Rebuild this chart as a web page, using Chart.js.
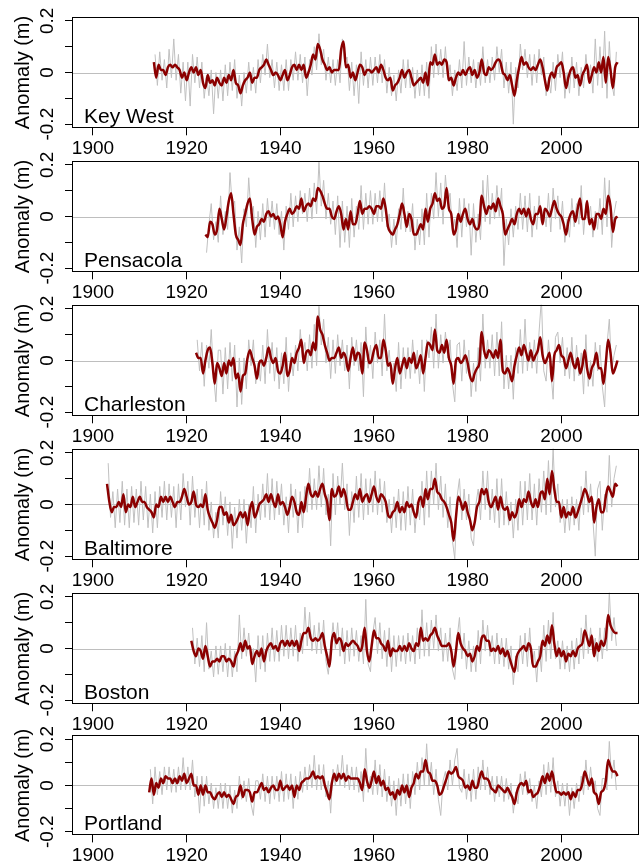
<!DOCTYPE html>
<html>
<head>
<meta charset="utf-8">
<script src="https://cdn.jsdelivr.net/npm/chart.js@4/dist/chart.umd.min.js"></script>
<style>
  html, body { margin: 0; padding: 0; background: #ffffff; }
  #wrap { position: relative; width: 641px; height: 865px; overflow: hidden; background: #ffffff; }
  #wrap canvas { position: absolute; left: 0; }
</style>
</head>
<body>
<div id="wrap"></div>
<script>
// Sea-level anomalies at six US tide gauges, in centimetres.
// "Smooth" series are half-yearly samples of the low-passed record,
// "Raw" series are half-yearly samples of the monthly record.
const STEP = 0.5;

const keyWestStart = 1913.0;
const keyWestSmooth = [
  4,-2,3,1,1,-1,2,3,2,3,2,1,-2,0,-3,0,2,0,2,-1,
  1,-4,-6,-1,-4,-3,-5,-2,-4,-5,-2,-4,-1,-3,1,-4,-5,-8,-5,-3,
  -2,0,-4,-2,-2,1,2,3,5,3,1,-1,0,-1,-3,-1,1,-3,-1,2,
  3,1,3,1,3,-2,0,3,7,5,11,9,5,3,1,2,0,1,1,1,
  9,12,2,3,-2,0,-3,0,3,2,-1,1,1,0,1,2,0,3,1,-2,
  -3,-2,-7,-5,-4,-2,1,-2,0,1,-2,-5,-4,-3,-2,-4,0,-5,4,3,
  7,3,4,3,5,4,-3,-2,-5,-2,0,-1,1,-1,1,2,-1,1,-2,0,
  5,0,-1,2,1,2,4,5,4,0,-1,-3,-1,-5,-9,-3,2,6,3,4,
  2,1,2,1,3,5,2,-3,-7,-2,0,-2,2,3,4,0,-6,-2,1,2,
  -2,-1,-5,-1,1,3,-4,-1,2,0,4,0,6,-4,6,1,-6,2,4
];
const keyWestRawStart = 1913.25;
const keyWestRaw = [
  7,-5,8,-3,5,-6,9,-2,13,-3,7,-8,4,-11,4,-13,7,-4,6,-6,
  4,-10,-1,-9,1,-16,0,-10,1,-11,3,-9,4,-7,5,-10,-1,-13,0,-8,
  4,-7,2,-8,5,-4,7,-1,11,-2,5,-6,4,-7,3,-7,5,-7,5,-3,
  8,-3,7,-4,6,-9,5,-1,10,1,15,3,9,-3,6,-4,5,-5,5,-4,
  13,4,6,-7,4,-9,3,-12,8,-5,5,-6,6,-5,6,-4,7,-4,5,-8,
  2,-9,-1,-11,1,-8,5,-6,5,-6,2,-10,1,-9,3,-9,4,-10,10,-2,
  11,-1,9,-2,10,-3,3,-9,1,-7,5,-6,12,-5,6,-4,5,-6,4,-5,
  10,-4,5,-4,6,-3,10,0,9,-6,4,-8,4,-20,2,-6,11,1,9,-2,
  7,-5,7,-4,9,-1,6,-9,-2,-8,4,-7,7,-2,8,-10,0,-8,6,-6,
  4,-9,2,-6,7,-3,3,-8,13,-5,10,-6,16,-10,12,-4,-9,8
];

const pensacolaStart = 1924.0;
const pensacolaSmooth = [
  -7,-8,-2,-3,-7,-5,3,-1,-5,0,6,9,1,-7,-9,-11,-3,1,5,7,
  -1,-7,-4,-3,-1,-2,1,2,0,1,-1,0,-3,-8,-2,1,3,1,2,4,
  3,7,2,4,5,4,7,6,11,10,8,5,3,3,0,-1,2,4,1,-5,
  -1,-5,2,-3,-3,1,6,1,3,3,4,3,1,4,4,3,7,3,-4,-6,
  -7,-5,-3,1,5,1,-4,1,-1,-7,-7,-5,-3,-5,3,-2,3,5,9,6,
  7,3,4,11,3,1,-7,-5,1,-2,1,3,-1,-3,-1,-4,-5,-3,8,4,
  1,4,3,5,2,7,4,1,-7,-5,-3,-1,-3,1,3,1,3,0,3,-1,
  -3,1,1,4,-3,3,2,0,3,6,3,1,0,-3,-7,-2,1,2,-2,3,
  7,-1,-1,6,-3,-1,-5,1,1,-1,3,1,8,4,-6,-1,0
];
const pensacolaRawStart = 1924.25;
const pensacolaRaw = [
  -14,-3,5,-9,-2,-10,8,-7,2,-5,17,4,6,-13,-4,-18,3,-4,15,1,
  4,-12,2,-9,5,-8,7,-4,6,-5,5,-7,2,-13,4,-5,9,-4,8,-2,
  10,1,9,-2,11,-1,13,1,21,4,14,-1,9,-3,6,-7,8,-12,6,-10,
  4,-12,7,-8,4,-5,12,-5,9,-3,10,-3,9,-2,10,-2,13,-4,1,-12,
  -1,-11,3,-5,11,-6,2,-6,5,-13,-1,-11,3,-11,9,-8,9,-1,17,0,
  13,-3,16,5,9,-6,-1,-12,7,-8,7,-4,5,-15,5,-10,1,-9,14,-2,
  16,-3,9,-1,12,0,11,-19,-1,-11,3,-8,4,-5,9,-5,8,-6,9,-8,
  4,-5,8,-2,3,-4,9,-6,11,-1,8,-5,6,-10,-1,-8,7,-4,5,-3,
  12,-7,5,-1,4,-8,2,-5,7,-7,15,-4,14,-12,1,6
];

const charlestonStart = 1922.0;
const charlestonSmooth = [
  3,1,1,-5,0,4,5,-1,-9,-1,-3,-6,-1,-5,0,-2,1,-7,-5,-12,
  -6,-5,1,4,1,-2,-7,-1,0,-2,1,5,1,-1,1,-4,-5,-2,3,-6,
  -4,1,-1,3,5,8,-1,3,4,2,7,4,17,12,10,6,3,0,1,1,
  3,5,1,3,1,-4,1,5,0,3,2,-5,7,4,-1,0,4,6,1,1,
  8,4,-2,-1,-9,-3,1,-5,-2,1,-3,1,-1,3,-3,-1,2,-5,1,7,
  6,4,12,4,3,6,3,8,1,-2,-9,0,1,-1,0,2,-1,-6,-8,-5,
  -3,-1,11,4,1,4,3,1,4,1,8,-4,-5,-3,-5,-8,-2,2,5,2,
  6,3,0,4,0,2,4,9,2,-1,1,3,-8,2,4,6,2,1,-3,0,
  3,-1,-3,1,-5,-2,4,-3,-7,-3,-1,3,-3,-3,-9,-1,8,3,-5,-3,0
];
const charlestonRawStart = 1922.25;
const charlestonRaw = [
  8,-4,7,-10,6,-3,12,-6,-16,4,4,-13,5,-11,7,-8,6,-18,1,-17,
  1,-11,8,-2,8,-9,-1,-8,6,-9,12,-5,7,-8,5,-11,3,-9,9,-12,
  3,-6,6,-4,12,1,7,-4,10,-3,14,-2,21,6,16,-1,9,-7,8,-5,
  10,-2,8,-4,6,-11,9,-2,8,-4,7,-14,13,-3,6,-7,11,-1,8,-6,
  18,-4,4,-8,-1,-12,7,-11,5,-7,5,-7,8,-5,4,-9,8,-12,8,1,
  13,-3,18,-3,10,-1,11,1,8,-9,-16,6,7,-8,8,-5,4,-14,-1,-12,
  5,-8,18,-3,8,-3,10,-6,11,-6,15,-11,2,-11,2,-15,5,-5,12,-5,
  16,-4,7,-3,8,-5,11,24,-4,-8,8,-4,-15,9,11,-1,9,-6,5,-7,
  9,-8,6,-6,3,-13,10,-10,0,-10,7,-4,6,-10,-18,6,16,-4,2,6
];

const baltimoreStart = 1903.0;
const baltimoreSmooth = [
  8,1,-3,-1,-1,1,-1,4,-3,0,-1,3,-1,1,3,1,1,-1,-2,-3,
  -5,0,-1,3,1,3,1,3,1,-1,1,1,3,6,3,0,1,5,0,-1,
  0,-1,4,-2,-5,-7,-9,-6,-1,-1,-4,-3,-7,-4,-8,-7,-5,-3,-5,-3,
  -8,-2,1,-5,-3,0,1,2,4,1,4,1,-1,4,0,1,-1,-4,-1,3,
  1,-3,-4,1,-3,3,8,4,3,5,3,6,8,4,1,-6,6,3,4,7,
  3,6,3,-2,-2,1,4,2,6,1,3,4,1,4,7,3,1,4,3,1,
  -4,-5,-3,-2,1,-3,-1,-3,1,-1,0,-3,-5,1,3,-1,6,2,6,6,
  10,5,4,2,1,-1,-4,-7,-14,-5,3,1,-2,1,-3,-6,-10,-7,-1,1,
  6,4,6,1,-1,1,3,-2,3,-1,-2,-1,-6,-3,-5,-3,2,-1,2,1,
  5,1,-1,2,-1,4,5,2,10,4,13,6,1,1,-5,-1,-5,-3,-4,-1,
  -5,-3,0,3,6,4,1,3,-7,-1,2,-3,-3,3,7,5,3,8,7
];
const baltimoreRawStart = 1903.25;
const baltimoreRaw = [
  16,-5,5,-9,6,-7,9,-8,6,-9,7,-7,6,-8,9,-6,7,-9,4,-11,
  5,-9,7,-5,9,-6,8,-5,7,-9,8,-6,12,-1,9,-8,11,-5,6,-9,
  6,-8,9,-10,1,-13,-3,-13,5,-8,3,-12,1,-17,-1,-13,2,-10,2,-15,
  0,-9,7,-11,4,-6,8,-5,12,-6,10,-6,9,-4,8,-8,3,-11,8,-5,
  6,-11,5,-9,7,-3,14,-2,10,-2,15,-1,14,-4,4,-16,12,-4,11,0,
  16,-2,8,-12,5,-7,11,-5,12,-6,10,-4,10,-3,13,-4,10,-3,9,-7,
  2,-11,3,-9,6,-10,5,-10,7,-8,6,-11,1,-6,9,-8,13,-5,13,0,
  16,-2,11,-5,8,-9,3,-14,-21,3,10,-6,6,-6,4,-13,-16,0,6,-6,
  13,-2,13,-6,6,-7,10,-9,10,-8,5,-8,1,-13,2,-10,9,-8,9,-6,
  12,-6,8,-8,10,-3,13,-4,17,-3,22,-1,8,-7,2,-11,2,-10,3,-8,
  2,-10,7,-4,13,-3,8,-6,-20,6,9,-10,4,-3,19,-1,10,15
];

const bostonStart = 1921.0;
const bostonSmooth = [
  3,-1,-3,0,-1,-4,1,-3,-7,-5,-5,-4,-5,-3,-3,-5,-4,-5,-7,-3,
  -1,2,-1,3,0,1,-6,-3,-1,-3,0,-5,-1,1,2,0,1,-1,2,3,
  1,3,1,3,1,3,-1,3,6,6,8,4,3,4,3,4,6,1,-3,-7,
  3,6,2,4,3,-1,2,1,2,3,2,1,-1,1,8,-1,-5,1,7,4,
  4,2,1,-1,3,-3,0,-1,-1,1,-1,1,-1,2,0,-1,2,1,8,3,
  4,3,5,6,8,5,3,1,1,1,2,-1,-7,-1,6,2,0,-1,-3,-2,
  -5,-3,1,-1,4,5,3,3,-1,0,-1,1,-2,0,-3,-1,-4,-7,-9,-3,
  -1,0,1,-1,2,0,-7,-7,-5,-3,3,1,5,2,9,2,-3,0,-3,-1,
  -5,-2,-3,-1,-3,0,1,2,7,4,1,5,-3,2,-1,3,1,4,13,9,
  7,6,6
];
const bostonRawStart = 1921.25;
const bostonRaw = [
  8,-6,4,-7,5,-9,10,-8,-1,-11,1,-10,1,-9,2,-11,1,-11,-1,-9,
  13,-4,8,-3,6,-5,0,-13,5,-8,5,-9,6,-5,8,-5,7,-5,9,-3,
  9,-4,8,-3,9,-5,6,-2,16,1,14,-1,9,-2,10,-2,11,-5,-10,0,
  10,0,10,-3,8,-6,7,-5,8,-3,7,-5,5,-6,19,-6,-9,6,12,-2,
  10,-4,7,-7,8,-9,5,-7,5,-5,5,-6,6,-5,5,-6,8,-4,15,-3,
  10,-3,11,0,13,-1,8,-5,6,-5,8,-8,-12,4,12,-4,6,-8,3,-9,
  1,-9,7,-6,11,-1,9,-3,5,-6,6,-6,4,-7,4,-8,1,-14,-3,-9,
  5,-6,6,-7,8,-6,-1,-13,1,-9,9,-5,11,-4,14,-4,3,-8,3,-8,
  1,-9,3,-8,4,-6,8,-4,13,-2,8,-2,4,-5,8,-4,8,-1,22,3,
  12,1
];

const portlandStart = 1912.0;
const portlandSmooth = [
  -3,3,-4,1,-1,3,1,4,3,3,1,3,1,4,2,5,1,3,5,0,
  0,-4,0,-4,0,-3,-3,-5,-6,-4,-3,-5,-3,-5,-4,-6,-8,-5,-4,0,
  -5,-2,-2,-3,-7,-3,-3,-1,1,-2,-1,-3,-1,0,-2,-2,2,-2,-1,0,
  -2,0,-5,0,-2,1,2,3,3,4,6,3,4,3,4,0,-3,-6,1,5,
  2,5,3,5,2,4,3,3,3,3,1,-2,7,2,-1,2,6,1,4,0,
  2,-2,-1,-4,-3,-6,-2,-4,0,-3,0,-5,-1,1,5,3,6,6,11,6,
  5,2,2,0,-4,-3,0,3,6,5,6,8,4,3,2,-1,0,-2,2,-1,
  -1,3,6,3,3,2,-1,-2,-3,0,-1,-2,-3,-1,-3,-5,-8,-3,0,1,
  0,2,-3,-2,-5,-4,-3,0,4,1,5,2,6,1,-3,-3,-4,-3,-4,-3,
  -6,-3,-5,-2,-2,1,6,3,0,3,-3,-4,-8,-3,-2,2,11,8,6,6,
  4
];
const portlandRawStart = 1912.25;
const portlandRaw = [
  7,-8,8,-4,6,-4,8,-2,8,-3,7,-3,8,-2,12,-2,8,-2,11,-5,
  4,-12,4,-9,4,-8,1,-10,-1,-10,1,-10,1,-10,0,-12,-2,-10,4,-6,
  2,-7,3,-8,-13,2,2,-6,5,-7,4,-8,4,-6,4,-7,6,-7,5,-6,
  5,-10,4,-6,6,-3,8,-2,9,-1,13,-2,9,-2,9,-5,2,-12,7,0,
  9,0,13,-1,9,-2,8,-2,8,-3,6,-7,16,-3,4,-4,11,-4,9,-5,
  7,-7,4,-9,2,-13,3,-9,5,-8,5,-10,6,-4,10,-2,12,0,18,0,
  10,-4,7,-6,-13,2,6,-2,11,0,11,16,-1,-3,7,-6,5,-7,7,-6,
  8,-2,11,-2,8,-4,4,-7,4,-5,4,-7,3,-6,1,-12,-3,-8,5,-4,
  6,-4,3,-7,0,-10,2,-5,9,-4,10,-3,12,-5,2,-9,1,-9,1,-13,
  -1,-10,1,-7,4,-4,11,-2,8,-3,2,-10,-13,3,3,-2,19,3,11,-2
];

const stationNames = ['Key West', 'Pensacola', 'Charleston', 'Baltimore', 'Boston', 'Portland'];
const xTickValues = [1900, 1920, 1940, 1960, 1980, 2000];
const xTickLabels = ['1900', '1920', '1940', '1960', '1980', '2000'];
const yTickValues = [-0.2, -0.1, 0, 0.1, 0.2];
const yLabelValues = [-0.2, 0, 0.2];
const yLabelTexts = ['-0.2', '0', '0.2'];
const yTitle = 'Anomaly (m)';

const series = [
  { smooth: keyWestSmooth, smoothStart: keyWestStart, raw: keyWestRaw, rawStart: keyWestRawStart },
  { smooth: pensacolaSmooth, smoothStart: pensacolaStart, raw: pensacolaRaw, rawStart: pensacolaRawStart },
  { smooth: charlestonSmooth, smoothStart: charlestonStart, raw: charlestonRaw, rawStart: charlestonRawStart },
  { smooth: baltimoreSmooth, smoothStart: baltimoreStart, raw: baltimoreRaw, rawStart: baltimoreRawStart },
  { smooth: bostonSmooth, smoothStart: bostonStart, raw: bostonRaw, rawStart: bostonRawStart },
  { smooth: portlandSmooth, smoothStart: portlandStart, raw: portlandRaw, rawStart: portlandRawStart }
];

// Page layout: plot-box top and bottom of each panel, in page pixels.
const panelBoxes = [
  [16.7, 128.3], [160.7, 272.3], [304.7, 416.3],
  [448.7, 560.3], [592.7, 704.3], [735.4, 835.4]
];
const PAGE_W = 641;
const BOX_LEFT = 72;
const BOX_RIGHT = 638.5;
const X_MIN = 1895.52, X_MAX = 2016.48;
const Y_MIN = -0.216, Y_MAX = 0.216;
const FONT = '"Liberation Sans", Arial, Helvetica, sans-serif';

const toPoints = (vals, start) => vals.map((v, i) => ({ x: start + i * STEP, y: v / 100 }));

const panelDecor = {
  id: 'panelDecor',
  beforeDatasetsDraw(chart) {
    const { ctx, chartArea: a, scales: { y } } = chart;
    const y0 = Math.round(y.getPixelForValue(0)) + 0.5;
    ctx.save();
    ctx.strokeStyle = '#bebebe';
    ctx.lineWidth = 1;
    ctx.beginPath();
    ctx.moveTo(a.left, y0);
    ctx.lineTo(a.right, y0);
    ctx.stroke();
    ctx.restore();
  },
  afterDraw(chart, args, opts) {
    const { ctx, chartArea: a, scales: { y } } = chart;
    ctx.save();
    ctx.strokeStyle = '#000';
    ctx.lineWidth = 1;
    const l = Math.round(a.left) + 0.5, r = Math.round(a.right) - 0.5;
    const t = Math.round(a.top) + 0.5, b = Math.round(a.bottom) - 0.5;
    ctx.strokeRect(l, t, r - l, b - t);

    ctx.fillStyle = '#000';
    ctx.textAlign = 'center';
    ctx.textBaseline = 'middle';
    ctx.font = '19px ' + FONT;
    yLabelValues.forEach((v, i) => {
      ctx.save();
      ctx.translate(47.5, y.getPixelForValue(v));
      ctx.rotate(-Math.PI / 2);
      ctx.fillText(yLabelTexts[i], 0, 0);
      ctx.restore();
    });

    ctx.font = '20px ' + FONT;
    ctx.save();
    ctx.translate(23.5, (a.top + a.bottom) / 2);
    ctx.rotate(-Math.PI / 2);
    ctx.fillText(yTitle, 0, 0);
    ctx.restore();

    ctx.font = '21px ' + FONT;
    ctx.textAlign = 'left';
    ctx.textBaseline = 'alphabetic';
    ctx.fillText(opts.name, a.left + 12, a.bottom - 5);
    ctx.restore();
  }
};

const wrap = document.getElementById('wrap');

series.forEach((s, k) => {
  const [boxTop, boxBottom] = panelBoxes[k];
  const canvasTop = Math.floor(boxTop) - 14;
  const canvasH = Math.ceil(boxBottom) + 30 - canvasTop;
  const xAxisH = canvasTop + canvasH - boxBottom;

  const cv = document.createElement('canvas');
  cv.width = PAGE_W;
  cv.height = canvasH;
  cv.style.top = canvasTop + 'px';
  cv.style.width = PAGE_W + 'px';
  cv.style.height = canvasH + 'px';
  wrap.appendChild(cv);

  new Chart(cv, {
    type: 'line',
    data: {
      datasets: [
        {
          data: toPoints(s.smooth, s.smoothStart),
          borderColor: '#8b0000',
          borderWidth: 2.5,
          pointRadius: 0,
          cubicInterpolationMode: 'monotone',
          order: 0
        },
        {
          data: toPoints(s.raw, s.rawStart),
          borderColor: '#c0c0c0',
          borderWidth: 1,
          pointRadius: 0,
          tension: 0,
          order: 1
        }
      ]
    },
    options: {
      responsive: false,
      animation: false,
      events: [],
      layout: { padding: { top: boxTop - canvasTop, right: PAGE_W - BOX_RIGHT, left: 0, bottom: 0 } },
      plugins: {
        legend: { display: false },
        tooltip: { enabled: false },
        panelDecor: { name: stationNames[k] }
      },
      scales: {
        x: {
          type: 'linear',
          bounds: 'data',
          min: X_MIN,
          max: X_MAX,
          afterBuildTicks: sc => { sc.ticks = xTickValues.map(v => ({ value: v })); },
          afterFit: sc => { sc.height = xAxisH; },
          border: { display: false },
          grid: { drawOnChartArea: false, drawTicks: true, tickLength: 7, color: '#000', lineWidth: 1 },
          ticks: {
            autoSkip: false,
            maxRotation: 0,
            minRotation: 0,
            padding: 2,
            color: '#000',
            font: { family: FONT, size: 19, lineHeight: 1.2 },
            callback: (v, i) => xTickLabels[i]
          }
        },
        y: {
          type: 'linear',
          bounds: 'data',
          min: Y_MIN,
          max: Y_MAX,
          afterBuildTicks: sc => { sc.ticks = yTickValues.map(v => ({ value: v })); },
          afterFit: sc => { sc.width = BOX_LEFT; },
          border: { display: false },
          grid: { drawOnChartArea: false, drawTicks: true, tickLength: 7, color: '#000', lineWidth: 1 },
          ticks: { display: false }
        }
      }
    },
    plugins: [panelDecor]
  });
});
</script>
</body>
</html>
